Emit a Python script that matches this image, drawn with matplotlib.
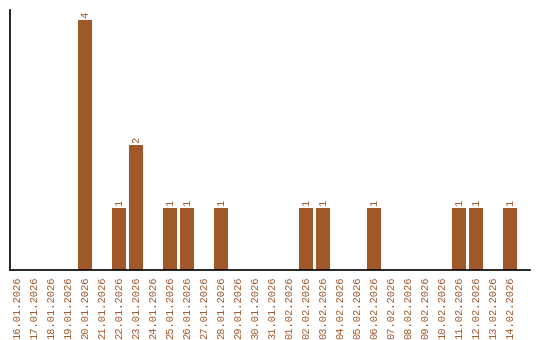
import matplotlib
matplotlib.use('Agg')
import matplotlib.pyplot as plt

DATES = ['16.01.2026', '17.01.2026', '18.01.2026', '19.01.2026', '20.01.2026',
         '21.01.2026', '22.01.2026', '23.01.2026', '24.01.2026', '25.01.2026',
         '26.01.2026', '27.01.2026', '28.01.2026', '29.01.2026', '30.01.2026',
         '31.01.2026', '01.02.2026', '02.02.2026', '03.02.2026', '04.02.2026',
         '05.02.2026', '06.02.2026', '07.02.2026', '08.02.2026', '09.02.2026',
         '10.02.2026', '11.02.2026', '12.02.2026', '13.02.2026', '14.02.2026']
COUNTS = [0, 0, 0, 0, 4, 0, 1, 2, 0, 1, 1, 0, 1, 0, 0,
          0, 0, 1, 1, 0, 0, 1, 0, 0, 0, 0, 1, 1, 0, 1]

COLOR = '#A0572A'

plt.rcParams['font.family'] = ['Liberation Mono', 'DejaVu Sans Mono']

fig = plt.figure(figsize=(5.4, 3.4), dpi=100)
ax = fig.add_axes([10 / 540, 70 / 340, 520 / 540, 260 / 340])

x = list(range(len(DATES)))
ax.bar(x, COUNTS, width=0.82, color=COLOR)
for xi, v in zip(x, COUNTS):
    if v > 0:
        ax.text(xi, v + 0.03, str(v), rotation=90, ha='center', va='bottom',
                fontsize=7.5, color=COLOR)

ax.set_xlim(-0.41, 30.18)
ax.set_ylim(0, 4.16)
ax.set_xticks(x)
ax.set_xticklabels(DATES, rotation=90, fontsize=7.5, color=COLOR)
ax.tick_params(axis='x', length=0, pad=5)
ax.set_yticks([])
for s in ['top', 'right']:
    ax.spines[s].set_visible(False)
ax.spines['left'].set_linewidth(1.2)
ax.spines['bottom'].set_linewidth(1.2)

fig.savefig('out.png', dpi=100)
